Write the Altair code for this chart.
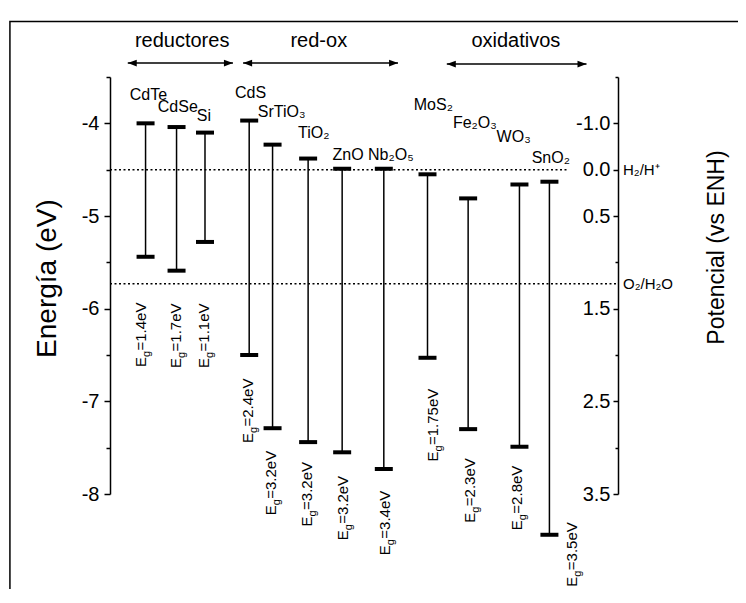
import altair as alt
import pandas as pd

# ---------------- data ----------------
materials = ["CdTe", "CdSe", "Si", "CdS", "SrTiO₃", "TiO₂", "ZnO", "Nb₂O₅",
             "MoS₂", "Fe₂O₃", "WO₃", "SnO₂"]
xpos = [7.0, 13.1, 18.7, 27.4, 32.0, 39.0, 45.7, 53.9, 62.5, 70.5, 80.6, 86.5]
cb = [-4.00, -4.04, -4.10, -3.97, -4.23, -4.38, -4.49, -4.49, -4.55, -4.81, -4.66, -4.63]
vb = [-5.44, -5.59, -5.28, -6.50, -7.29, -7.44, -7.55, -7.73, -6.53, -7.30, -7.49, -8.44]
gap_txt = ["=1.4eV", "=1.7eV", "=1.1eV", "=2.4eV", "=3.2eV", "=3.2eV", "=3.2eV",
           "=3.4eV", "=1.75eV", "=2.3eV", "=2.8eV", "=3.5eV"]

# annotation anchors (data units)
name_x = [3.9, 9.4, 17.1, 24.6, 29.1, 37.0, 43.8, 50.8, 59.8, 67.5, 76.1, 83.0]
name_e = [-3.75, -3.88, -3.98, -3.73, -3.93, -4.16, -4.40, -4.40, -3.86, -4.05, -4.20, -4.43]
eg_x = [7.1, 14.0, 19.5, 28.1, 32.7, 39.7, 46.9, 55.1, 64.6, 71.9, 81.2, 91.9]
eg_e = [-6.63, -6.64, -6.64, -7.45, -8.23, -8.35, -8.50, -8.66, -7.65, -8.31, -8.39, -9.00]

groups = ["reductores", "red-ox", "oxidativos"]
group_x = [14.2, 41.1, 79.9]
group_e = [-3.18, -3.18, -3.18]
arrow_start = [3.5, 26.2, 66.3]
arrow_end = [24.2, 56.7, 93.8]
arrow_e = [-3.35, -3.35, -3.36]

ref_names = ["H₂/H⁺", "O₂/H₂O"]
ref_e = [-4.5, -5.73]
ref_x1 = [0, 0]
ref_x2 = [90, 100]
ref_lx = [100, 100]

left_vals = [-4, -5, -6, -7, -8]
left_minor = [-3.5, -4.5, -5.5, -6.5, -7.5]
right_vals = [-4, -4.5, -5, -6, -7, -8]
right_labels = ["-1.0", "0.0", "0.5", "1.5", "2.5", "3.5"]
right_minor = [-3.5, -5.5, -6.5, -7.5]

# figure frame (top and left edges of the outer box), in data units
frame_left = [-19.7]
frame_right = [125.0]
frame_top = [-2.90]
frame_bottom = [-10.0]

# ---------------- tables ----------------
df = pd.DataFrame({"name": materials, "x": xpos, "cb": cb, "vb": vb, "gap": gap_txt,
                   "nx": name_x, "ne": name_e, "gx": eg_x, "ge": eg_e})
gdf = pd.DataFrame({"g": groups, "gx": group_x, "ge": group_e,
                    "a0": arrow_start, "a1": arrow_end, "ae": arrow_e})
rdf = pd.DataFrame({"n": ref_names, "e": ref_e, "x1": ref_x1, "x2": ref_x2, "lx": ref_lx})
fdf = pd.DataFrame({"l": frame_left, "r": frame_right, "t": frame_top, "b": frame_bottom})
one = pd.DataFrame({"e": [-4.0]})

W, H = 508, 417
FONT = "Liberation Sans"

xsc = alt.Scale(domain=[0, 100], nice=False, zero=False)


def ysc():
    return alt.Scale(domain=[-8, -3.5], nice=False, zero=False)


def X(f):
    return alt.X(f, type="quantitative", scale=xsc, axis=None)


def Y(f, axis=None):
    return alt.Y(f, type="quantitative", scale=ysc(), axis=axis)


left_axis = alt.Axis(orient="left", values=left_vals, labelExpr="'-' + abs(datum.value)",
                     tickSize=6, labelPadding=5, labelFontSize=20, labelFlush=False,
                     labelOverlap=False, title="Energía (eV)", titleFontSize=28,
                     titleAngle=270, titleX=-55, titleY=201, titleBaseline="alphabetic",
                     titleAlign="center")

expr = ""
for v, l in zip(right_vals, right_labels):
    expr += f"datum.value == {v} ? '{l}' : "
expr += "''"

right_axis = alt.Axis(orient="left", offset=-W, values=right_vals, labelExpr=expr,
                      tickSize=5, labelPadding=3, labelFontSize=20, labelFlush=False,
                      labelOverlap=False, title=None)
right_minor_axis = alt.Axis(orient="left", offset=-W, values=right_minor, tickSize=3,
                            labels=False, domain=False, title=None)
left_minor_axis = alt.Axis(orient="left", values=left_minor, tickSize=4,
                           labels=False, domain=False, title=None)
right_title_axis = alt.Axis(orient="right", labels=False, ticks=False, domain=False,
                            title="Potencial (vs ENH)", titleFontSize=23, titleAngle=270,
                            titleX=87, titleY=170, titleBaseline="top", titleAlign="center")

layers = []

# outer frame of the figure drawn as an unfilled box
layers.append(alt.Chart(fdf).mark_rect(fill="transparent", stroke="black", strokeWidth=1.5).encode(
    x=X("l"), x2="r", y=Y("t"), y2="b"))
# vertical band lines
layers.append(alt.Chart(df).mark_rule(color="black", strokeWidth=1.5).encode(
    x=X("x"), y=Y("cb", left_axis), y2="vb"))
# band edges
layers.append(alt.Chart(df).mark_tick(orient="horizontal", size=18, thickness=4,
                                      color="black", opacity=1).encode(x=X("x"), y=Y("cb")))
layers.append(alt.Chart(df).mark_tick(orient="horizontal", size=18, thickness=4,
                                      color="black", opacity=1).encode(x=X("x"), y=Y("vb")))
# dotted reference levels
layers.append(alt.Chart(rdf).mark_rule(color="black", strokeWidth=1.5, strokeDash=[2, 2.5]).encode(
    x=X("x1"), x2="x2", y=Y("e")))
layers.append(alt.Chart(rdf).mark_text(font=FONT, fontSize=15, align="left", baseline="middle",
                                       dx=5, color="black").encode(
    x=X("lx"), y=Y("e"), text="n"))
# material names
layers.append(alt.Chart(df).mark_text(font=FONT, fontSize=16, align="left",
                                      baseline="alphabetic", color="black").encode(
    x=X("nx"), y=Y("ne"), text="name"))
# band gap labels  E_g=...
layers.append(alt.Chart(df).mark_text(font=FONT, fontSize=15, align="left", angle=270,
                                      baseline="alphabetic", color="black").encode(
    x=X("gx"), y=Y("ge"), text=alt.value("E")))
layers.append(alt.Chart(df).mark_text(font=FONT, fontSize=11, align="left", angle=270,
                                      baseline="alphabetic", dx=10, dy=4, color="black").encode(
    x=X("gx"), y=Y("ge"), text=alt.value("g")))
layers.append(alt.Chart(df).mark_text(font=FONT, fontSize=15, align="left", angle=270,
                                      baseline="alphabetic", dx=16.5, color="black").encode(
    x=X("gx"), y=Y("ge"), text="gap"))
# group headers and arrows
layers.append(alt.Chart(gdf).mark_text(font=FONT, fontSize=20, align="center",
                                       baseline="alphabetic", color="black").encode(
    x=X("gx"), y=Y("ge"), text="g"))
layers.append(alt.Chart(gdf).mark_rule(color="black", strokeWidth=1.5).encode(
    x=X("a0"), x2="a1", y=Y("ae")))
layers.append(alt.Chart(gdf).mark_point(shape="M 0 0 L 2 -0.75 L 2 0.75 Z", size=81,
                                        filled=True, color="black", opacity=1).encode(
    x=X("a0"), y=Y("ae")))
layers.append(alt.Chart(gdf).mark_point(shape="M 0 0 L -2 -0.75 L -2 0.75 Z", size=81,
                                        filled=True, color="black", opacity=1).encode(
    x=X("a1"), y=Y("ae")))
# extra axes (minor ticks, right potential axis, right title)
layers.append(alt.Chart(one).mark_point(opacity=0).encode(y=Y("e", left_minor_axis)))
layers.append(alt.Chart(one).mark_point(opacity=0).encode(y=Y("e", right_axis)))
layers.append(alt.Chart(one).mark_point(opacity=0).encode(y=Y("e", right_minor_axis)))
layers.append(alt.Chart(one).mark_point(opacity=0).encode(y=Y("e", right_title_axis)))

chart = alt.layer(*layers).resolve_scale(y="independent").properties(
    width=W, height=H,
    autosize=alt.AutoSizeParams(type="none"),
    padding={"left": 102, "top": 69, "right": 120, "bottom": 95},
).configure_view(stroke=None).configure_axis(
    labelFont=FONT, titleFont=FONT, labelColor="black", titleColor="black",
    tickColor="black", domainColor="black", titleFontWeight="normal", grid=False,
    tickWidth=1.5, domainWidth=1.5,
)

chart.save("out.html", embed_options={"renderer": "svg", "actions": False})
